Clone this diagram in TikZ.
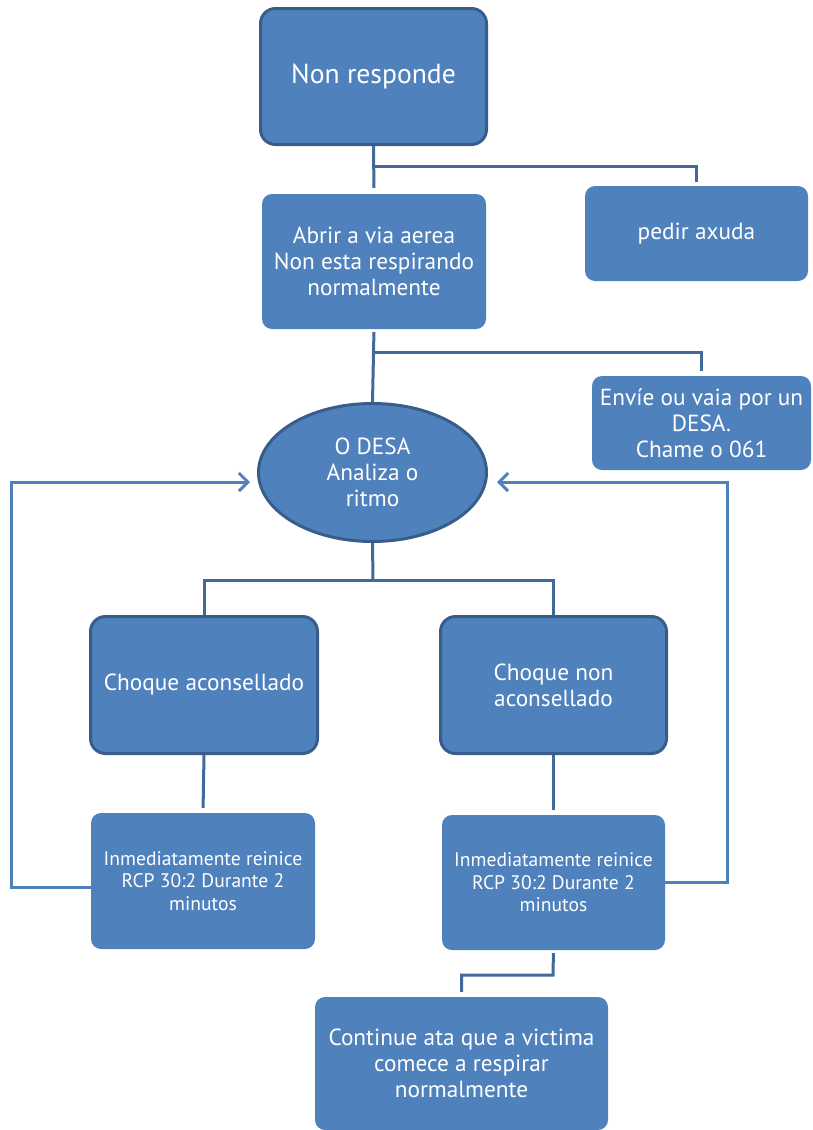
\documentclass[tikz,border=0pt]{standalone}
\usepackage{fontspec}
\setmainfont{PT Sans}
\usetikzlibrary{shapes.geometric,arrows.meta}
\definecolor{boxfill}{HTML}{4F81BD}
\definecolor{boxedge}{HTML}{385D8A}
\definecolor{linkdark}{HTML}{41699B}
\definecolor{linklight}{HTML}{4F81BD}
\begin{document}
\begin{tikzpicture}[x=1pt,y=-1pt,
        box/.style={rectangle, rounded corners=10pt, fill=boxfill, text=white, align=center, inner sep=0pt,
            font=\fontsize{23.3}{26}\selectfont},
        bigbox/.style={box, draw=boxedge, line width=3pt, rounded corners=15pt},
        smalltext/.style={font=\fontsize{19.6}{22.5}\selectfont},
        link/.style={draw=linkdark, line width=3pt},
        back/.style={draw=linklight, line width=3pt, -{Straight Barb[length=9pt,width=18pt,line width=3pt]}}]
    \useasboundingbox (0,0) rectangle (813,1130);
    \node[bigbox, minimum width=226, minimum height=136, font=\fontsize{27.6}{30}\selectfont] (nr) at (373.5,76.5) {Non responde};
    \node[box, minimum width=224, minimum height=135] (ab) at (374,261.5) {Abrir a via aerea\\Non esta respirando\\normalmente};
    \node[box, minimum width=223, minimum height=95] (pa) at (696.5,233.5) {pedir axuda};
    \node[box, minimum width=219, minimum height=94] (ev) at (701.5,423) {Envíe ou vaia por un\\DESA.\\Chame o 061};
    \node[bigbox, ellipse, minimum width=228, minimum height=138] (desa) at (372.5,472.5) {O DESA\\Analiza o\\ritmo};
    \node[bigbox, minimum width=227, minimum height=137] (ca) at (204,685) {Choque aconsellado};
    \node[bigbox, minimum width=226, minimum height=137] (cn) at (553.5,685) {Choque non\\aconsellado};
    \node[box, smalltext, minimum width=224, minimum height=136] (il) at (203,881) {Inmediatamente reinice\\RCP 30:2 Durante 2\\minutos};
    \node[box, smalltext, minimum width=223, minimum height=135] (ir) at (553.5,882.5) {Inmediatamente reinice\\RCP 30:2 Durante 2\\minutos};
    \node[box, minimum width=293, minimum height=133] (co) at (461.5,1063.5) {Continue ata que a victima\\comece a respirar\\normalmente};

    \coordinate (j1) at (373,166);
    \coordinate (j2) at (373,352);
    \coordinate (j3) at (373,580);
    \coordinate (j4) at (553,975);
    \coordinate (tl) at (11,482);
    \coordinate (tr) at (727,482);

    \draw[link, shorten >=6pt] (nr.south) -- (ab.north);
    \draw[link, shorten >=4pt] (j1) -| (pa.north);
    \draw[link, shorten <=3pt] (ab.south) -- (desa.north);
    \draw[link, shorten >=5pt] (j2) -| (ev.north);
    \draw[link] (desa.south) -- (j3);
    \draw[link] (ca.north) -- (ca.north |- j3) -- (cn.north |- j3) -- (cn.north);
    \draw[link, shorten >=5pt] (ca.south) -- (il.north);
    \draw[link, shorten >=5pt] (cn.south) -- (ir.north);
    \draw[link, shorten <=3pt] (ir.south) -- (j4) -| ([yshift=5pt]co.north);
    \draw[back, shorten >=7pt] ([yshift=-6pt]il.west) -| (tl) -- (tl -| desa.west);
    \draw[back, shorten >=9pt] (ir.east) -| (tr) -- (tr -| desa.east);
\end{tikzpicture}
\end{document}
